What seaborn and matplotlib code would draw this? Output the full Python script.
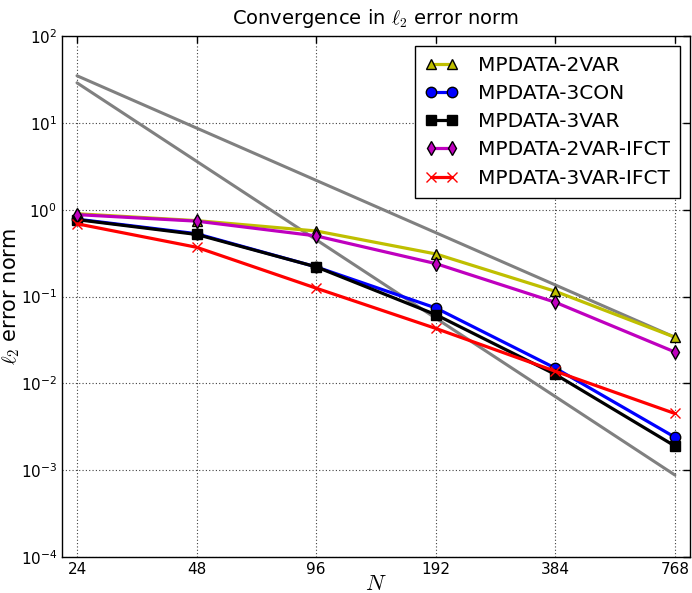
import matplotlib
matplotlib.use("Agg")
import matplotlib.pyplot as plt
import matplotlib.ticker as mticker
import seaborn as sns
import pandas as pd

N = [24, 48, 96, 192, 384, 768]
mp_2var = [0.90, 0.75, 0.57, 0.31, 0.115, 0.034]
mp_3con = [0.78, 0.53, 0.22, 0.074, 0.015, 0.0024]
mp_3var = [0.77, 0.52, 0.22, 0.062, 0.0127, 0.0019]
mp_2var_ifct = [0.88, 0.74, 0.50, 0.24, 0.086, 0.023]
mp_3var_ifct = [0.69, 0.37, 0.125, 0.043, 0.0138, 0.0045]

ref_N = [24, 768]
ref_order2 = [35.0, 0.034]
ref_order3 = [29.0, 0.00088]

sns.set_style("white")
plt.rcParams["font.family"] = ["DejaVu Sans"]
plt.rcParams["mathtext.fontset"] = "cm"
plt.rcParams["xtick.direction"] = "in"
plt.rcParams["ytick.direction"] = "in"
plt.rcParams["text.color"] = "k"
plt.rcParams["axes.labelcolor"] = "k"
plt.rcParams["xtick.color"] = "k"
plt.rcParams["ytick.color"] = "k"

fig = plt.figure(figsize=(6.92, 5.93), dpi=100)
ax = fig.add_axes([0.0896, 0.0607, 0.9074, 0.8783])

for vals in (ref_order2, ref_order3):
    sns.lineplot(x=ref_N, y=vals, ax=ax, color="gray", linewidth=2.2, legend=False)

series = [
    ("MPDATA-2VAR", mp_2var, "y", "^", "k"),
    ("MPDATA-3CON", mp_3con, "b", "o", "k"),
    ("MPDATA-3VAR", mp_3var, "k", "s", "k"),
    ("MPDATA-2VAR-IFCT", mp_2var_ifct, "m", "d", "k"),
    ("MPDATA-3VAR-IFCT", mp_3var_ifct, "r", "x", "r"),
]
for label, vals, col, mk, mec in series:
    sns.lineplot(x=N, y=vals, ax=ax, color=col, linewidth=2.3, marker=mk,
                 markersize=7.5, markeredgecolor=mec, markeredgewidth=1.0,
                 label=label)

ax.set_xscale("log", base=2)
ax.set_yscale("log")
ax.set_xlim(22.0, 838)
ax.set_ylim(1e-4, 1e2)
ax.xaxis.set_major_locator(mticker.FixedLocator(N))
ax.xaxis.set_major_formatter(mticker.FixedFormatter([str(n) for n in N]))
ax.xaxis.set_minor_locator(mticker.NullLocator())
ax.yaxis.set_major_locator(mticker.LogLocator(base=10, numticks=10))
ax.yaxis.set_minor_locator(mticker.NullLocator())
ax.tick_params(axis="both", labelsize=11, length=5, width=1, top=True, right=True,
               color="k", labelcolor="k")
ax.grid(True, which="major", linestyle=(0, (1, 2)), color="0.25", linewidth=0.8)
for s in ax.spines.values():
    s.set_color("k")
    s.set_linewidth(1.0)

ax.set_title(r"Convergence in $\ell_2$ error norm", fontsize=14, pad=9, color="k")
ax.set_xlabel(r"$N$", fontsize=16, color="k")
ax.set_ylabel(r"$\ell_2$ error norm", fontsize=15, color="k")
ax.xaxis.set_label_coords(0.5, -0.033)
ax.yaxis.set_label_coords(-0.064, 0.5)

leg = ax.legend(loc="upper right", fontsize=14.5, numpoints=2, frameon=True,
                fancybox=False, framealpha=1, edgecolor="k", borderpad=0.5,
                labelspacing=0.45, handlelength=1.6, handletextpad=1.0)
leg.get_frame().set_linewidth(1.0)
for t in leg.get_texts():
    t.set_color("k")

fig.savefig("out.png", dpi=100)
